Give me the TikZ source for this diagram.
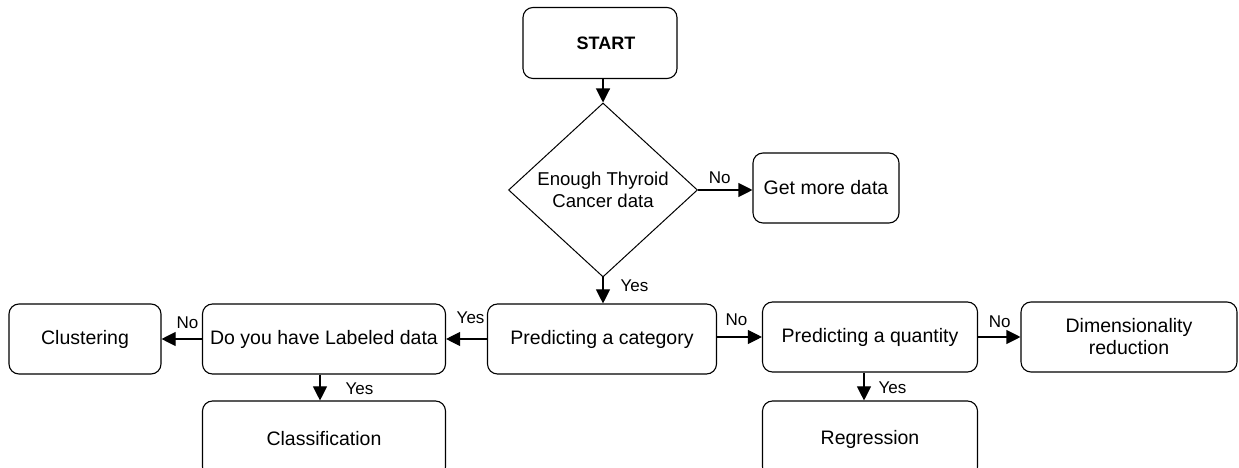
\documentclass[tikz,border=0pt]{standalone}
\usepackage{fontspec}
\setmainfont{Liberation Sans}
\usetikzlibrary{shapes.geometric, arrows.meta, positioning}
\tikzset{
>={Triangle[length=14pt, width=14pt]}, % solid triangular heads
node distance=2cm, % default distance, overridden per node below
process/.style={rectangle, rounded corners=10pt, draw=black, line width=1.1pt, align=center, minimum height=70pt, font=\fontsize{19.5}{22}\selectfont}, % plain step box
startbox/.style={process, minimum width=154pt, minimum height=71pt, font=\fontsize{18}{22}\selectfont\bfseries}, % entry box
decision/.style={diamond, draw=black, line width=1pt, align=center, inner sep=1pt, minimum width=189pt, minimum height=174pt, font=\fontsize{18.6}{22}\selectfont}, % question
yesno/.style={inner sep=0pt, font=\fontsize{17}{20}\selectfont}, % edge labels
flow/.style={->, line width=1.1pt}, % connectors
}

\begin{document}
\begin{tikzpicture}
      \useasboundingbox (0,0) rectangle (1239pt,468pt);
      \node[startbox] (start) at (600pt,425pt) {\raisebox{-5pt}{\hspace*{12pt}START}};
      \node[decision, node distance=147pt, below of=start, xshift=3pt] (enough) {Enough Thyroid\\Cancer data};
      \node[process, minimum width=146pt, node distance=223pt, right of=enough, yshift=2pt] (getmore) {Get more data};
      \node[process, minimum width=229pt, node distance=149pt, below of=enough, xshift=-1pt] (category) {Predicting a category};
      \node[process, minimum width=243pt, node distance=278pt, left of=category] (labeled) {Do you have Labeled data};
      \node[process, minimum width=152pt, node distance=239pt, left of=labeled] (clustering) {Clustering};
      \node[process, minimum width=243pt, minimum height=76pt, node distance=100pt, below of=labeled] (classify) {Classification};
      \node[process, minimum width=215pt, node distance=268pt, right of=category, yshift=2pt] (quantity) {Predicting a quantity};
      \node[process, minimum width=216pt, node distance=259pt, right of=quantity] (dimred) {Dimensionality\\reduction};
      \node[process, minimum width=215pt, minimum height=76pt, node distance=102pt, below of=quantity] (regression) {Regression};

      \draw (start.south -| enough.north) edge[flow] (enough.north)
      (enough.east) edge[flow] node[yesno, above=6pt, pos=0.4]{No} (enough.east -| getmore.west)
      (enough.south) edge[flow] node[yesno, right=17pt, pos=0.33]{Yes} (enough.south |- category.north)
      (category) edge[flow] node[yesno, above=15pt, pos=0.4]{Yes} (labeled)
      (labeled) edge[flow] node[yesno, above=10pt, pos=0.36]{No} (clustering)
      ([xshift=-4pt]labeled.south) edge[flow] node[yesno, right=25pt, pos=0.54]{Yes} ([xshift=-4pt]classify.north)
      (category.east |- quantity) edge[flow] node[yesno, above=11pt, pos=0.43]{No} (quantity.west)
      (quantity) edge[flow] node[yesno, above=9pt, pos=0.51]{No} (dimred)
      ([xshift=-6pt]quantity.south) edge[flow] node[yesno, right=14pt, pos=0.55]{Yes} ([xshift=-6pt]regression.north);
    \end{tikzpicture}
\end{document}
